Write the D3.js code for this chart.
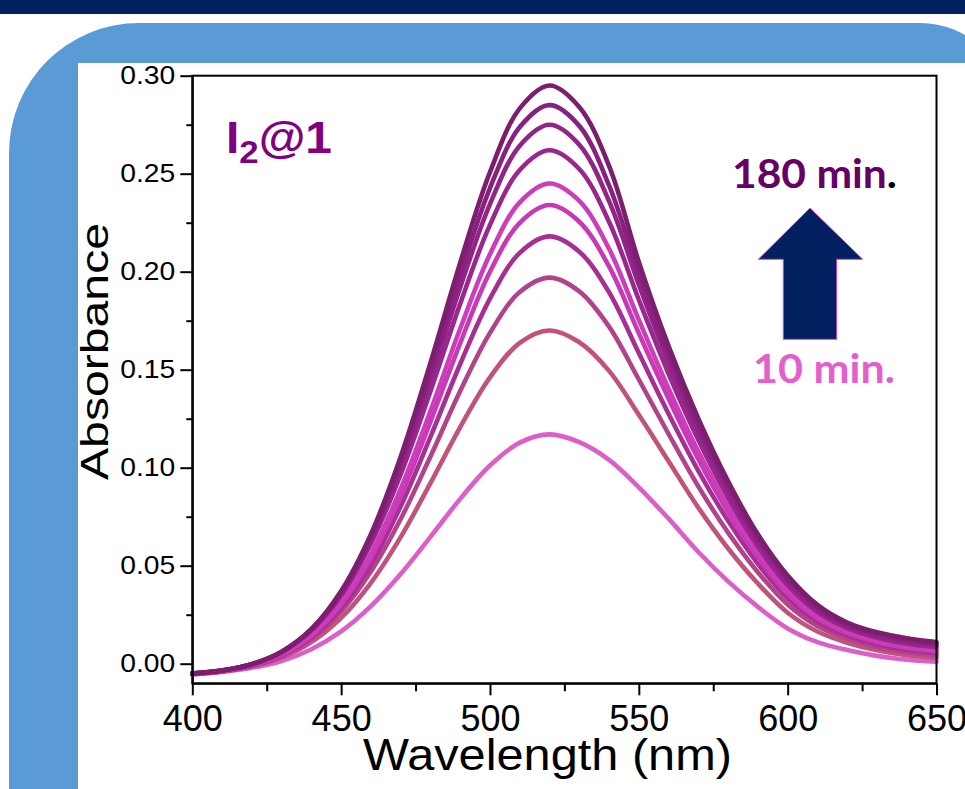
<!DOCTYPE html>
<html><head><meta charset="utf-8">
<script src="https://cdn.jsdelivr.net/npm/d3@7"></script>
<style>body{margin:0;background:#fff;} svg{display:block;}</style>
</head><body><svg id="c" width="965" height="789"></svg>
<script>
// ---------- data ----------
const wavelengths = [400,410,420,430,440,450,460,470,480,490,500,510,520,530,540,550,560,570,580,590,600,610,620,630,640,650];
const seriesNames = ["10 min","t2","t3","t4","t5","t6","t7","t8","t9","180 min"];
const s10  = [-0.0055,-0.0042,-0.0021,0.0014,0.0074,0.0165,0.0294,0.0458,0.0647,0.0841,0.1011,0.1128,0.117,0.113,0.104,0.090,0.074,0.057,0.042,0.029,0.018,0.011,0.007,0.004,0.002,0.001];
const s9   = [-0.0053,-0.0039,-0.0014,0.0031,0.0110,0.0234,0.0413,0.0646,0.0921,0.1207,0.1461,0.1637,0.170,0.1640,0.1494,0.1270,0.1033,0.0796,0.0588,0.0409,0.0260,0.0164,0.0107,0.0068,0.0043,0.0029];
const s8   = [-0.0052,-0.0038,-0.0011,0.0039,0.0126,0.0266,0.0470,0.0738,0.1057,0.1391,0.1688,0.1896,0.197,0.1900,0.1720,0.1450,0.1172,0.0904,0.0669,0.0467,0.0302,0.0192,0.0128,0.0085,0.0058,0.0042];
const s7   = [-0.0052,-0.0038,-0.0011,0.0042,0.0135,0.0285,0.0507,0.0803,0.1157,0.1529,0.1863,0.2096,0.218,0.2102,0.1895,0.1585,0.1275,0.0984,0.0729,0.0510,0.0333,0.0215,0.0145,0.0099,0.0071,0.0054];
const s6   = [-0.0051,-0.0037,-0.0009,0.0045,0.0143,0.0302,0.0539,0.0855,0.1235,0.1636,0.2000,0.2249,0.234,0.2255,0.2027,0.1686,0.1352,0.1043,0.0773,0.0543,0.0357,0.0232,0.0157,0.0111,0.0081,0.0064];
const s5   = [-0.0050,-0.0037,-0.0008,0.0048,0.0150,0.0315,0.0561,0.0892,0.1289,0.1710,0.2089,0.2354,0.245,0.2361,0.2117,0.1754,0.1403,0.1082,0.0803,0.0565,0.0375,0.0244,0.0167,0.0119,0.0089,0.0072];
const s4   = [-0.0049,-0.0034,-0.0002,0.0060,0.0170,0.0348,0.0613,0.0966,0.1390,0.1837,0.2239,0.2519,0.262,0.2524,0.2255,0.1857,0.1479,0.1141,0.0847,0.0598,0.0400,0.0263,0.0181,0.0132,0.0102,0.0084];
const s3   = [-0.0050,-0.0035,-0.0003,0.0060,0.0173,0.0358,0.0632,0.1002,0.1448,0.1920,0.2345,0.2643,0.275,0.2648,0.2360,0.1934,0.1535,0.1185,0.0880,0.0623,0.0419,0.0277,0.0192,0.0143,0.0113,0.0094];
const s2   = [-0.0050,-0.0035,-0.0003,0.0060,0.0175,0.0364,0.0647,0.1029,0.1492,0.1983,0.2427,0.2738,0.285,0.2744,0.2440,0.1992,0.1578,0.1217,0.0906,0.0641,0.0435,0.0289,0.0201,0.0151,0.0121,0.0102];
const s1   = [-0.0050,-0.0035,-0.0003,0.0061,0.0177,0.0371,0.0661,0.1056,0.1535,0.2046,0.2508,0.2833,0.295,0.284,0.254,0.205,0.162,0.125,0.093,0.066,0.045,0.030,0.021,0.016,0.013,0.011];
const seriesValues = [s10,s9,s8,s7,s6,s5,s4,s3,s2,s1];
const seriesColors = ["#DC5FC9","#C1527B","#B1438A","#A82F92","#C939B6","#CC3DBB","#9A278E","#912486","#88207F","#7B1E6E"];
const xTicks = [400,450,500,550,600,650];
const xMinorTicks = [425,475,525,575,625];
const yTicks = [0.00,0.05,0.10,0.15,0.20,0.25,0.30];
const yMinorTicks = [0.025,0.075,0.125,0.175,0.225,0.275];

// ---------- drawing ----------
const svg = d3.select("#c");
svg.append("rect").attr("x",0).attr("y",0).attr("width",965).attr("height",14).attr("fill","#002060");
function roundedPath(x0,y0,x1,y1,rTL,rTR,rBR,rBL){
  return `M${x0+rTL},${y0} L${x1-rTR},${y0} A${rTR},${rTR} 0 0 1 ${x1},${y0+rTR} L${x1},${y1-rBR} A${rBR},${rBR} 0 0 1 ${x1-rBR},${y1} L${x0+rBL},${y1} A${rBL},${rBL} 0 0 1 ${x0},${y1-rBL} L${x0},${y0+rTL} A${rTL},${rTL} 0 0 1 ${x0+rTL},${y0} Z`;
}
svg.append("path").attr("d",roundedPath(9,23,1010,900,130,90,90,90)).attr("fill","#5B9BD5");
svg.append("rect").attr("x",78).attr("y",63).attr("width",900).attr("height",740).attr("fill","#fff");

const x = d3.scaleLinear().domain([400,650]).range([192.3,936.5]);
const y = d3.scaleLinear().domain([-0.01,0.30]).range([683.3,75.7]);

const line = d3.line().x((d,i)=>x(wavelengths[i])).y(d=>y(d)).curve(d3.curveCatmullRom.alpha(0.5));
svg.append("g").selectAll("path").data(seriesValues).join("path")
  .attr("d",d=>line(d)).attr("fill","none")
  .attr("stroke",(d,i)=>seriesColors[i]).attr("stroke-width",4.6)
  .attr("stroke-linejoin","round").attr("stroke-linecap","round");

svg.append("rect").attr("x",x(400)).attr("y",y(0.30)).attr("width",x(650)-x(400)).attr("height",y(-0.01)-y(0.30))
  .attr("fill","none").attr("stroke","#000").attr("stroke-width",2);

const font = "'Liberation Sans', Arial, Helvetica, sans-serif";
const gy = svg.append("g").attr("transform",`translate(${x(400)},0)`)
  .call(d3.axisLeft(y).tickValues(yTicks).tickFormat(d3.format(".2f")).tickSize(12).tickPadding(5).tickSizeOuter(0));
gy.select(".domain").attr("stroke-width",2);
gy.selectAll(".tick line").attr("stroke-width",2);
gy.selectAll(".tick text").attr("font-family",font).attr("font-size",25).attr("fill","#000")
  .attr("textLength",55).attr("lengthAdjust","spacingAndGlyphs");
const gym = svg.append("g").attr("transform",`translate(${x(400)},0)`)
  .call(d3.axisLeft(y).tickValues(yMinorTicks).tickFormat("").tickSize(6).tickSizeOuter(0));
gym.select(".domain").remove();
gym.selectAll(".tick line").attr("stroke-width",2);

const gx = svg.append("g").attr("transform",`translate(0,${y(-0.01)})`)
  .call(d3.axisBottom(x).tickValues(xTicks).tickFormat(d3.format("d")).tickSize(12).tickPadding(10).tickSizeOuter(0));
gx.select(".domain").attr("stroke-width",2);
gx.selectAll(".tick line").attr("stroke-width",2);
gx.selectAll(".tick text").attr("font-family",font).attr("font-size",36).attr("fill","#000");
const gxm = svg.append("g").attr("transform",`translate(0,${y(-0.01)})`)
  .call(d3.axisBottom(x).tickValues(xMinorTicks).tickFormat("").tickSize(8).tickSizeOuter(0));
gxm.select(".domain").remove();
gxm.selectAll(".tick line").attr("stroke-width",2);

svg.append("text").attr("x",547.5).attr("y",770).attr("text-anchor","middle")
  .attr("font-family",font).attr("font-size",44).attr("textLength",369).attr("lengthAdjust","spacingAndGlyphs")
  .text("Wavelength (nm)");
svg.append("text").attr("transform","translate(108,351.5) rotate(-90)").attr("text-anchor","middle")
  .attr("font-family",font).attr("font-size",39).attr("textLength",257).attr("lengthAdjust","spacingAndGlyphs")
  .text("Absorbance");

const t = svg.append("text").attr("x",226).attr("y",153).attr("font-family",font).attr("font-weight","bold").attr("fill","#800080")
  .attr("textLength",106).attr("lengthAdjust","spacingAndGlyphs");
t.append("tspan").attr("font-size",44).text("I");
t.append("tspan").attr("font-size",32).attr("dy",10).text("2");
t.append("tspan").attr("font-size",44).attr("dy",-10).text("@1");

const lf = "Lato, 'Open Sans', sans-serif";
const t180 = svg.append("text").attr("x",732).attr("y",188).attr("font-family",lf).attr("font-weight","bold").attr("font-size",41)
  .attr("textLength",165).attr("lengthAdjust","spacingAndGlyphs");
t180.append("tspan").attr("fill","#660066").text("180 min");
t180.append("tspan").attr("fill","#000").text(".");
svg.append("text").attr("x",753).attr("y",383).attr("font-family",lf).attr("font-weight","bold").attr("font-size",41)
  .attr("textLength",142).attr("lengthAdjust","spacingAndGlyphs")
  .attr("fill","#E35FCB").text("10 min.");
const arrowPts = [[810,208],[862.7,259.3],[836.7,259.3],[836.7,339.3],[783.3,339.3],[783.3,259.3],[758.3,259.3]];
svg.append("polygon").attr("points",arrowPts.map(p=>p.join(",")).join(" "))
  .attr("fill","#002060").attr("stroke","#E040C0").attr("stroke-width",1);
</script></body></html>
